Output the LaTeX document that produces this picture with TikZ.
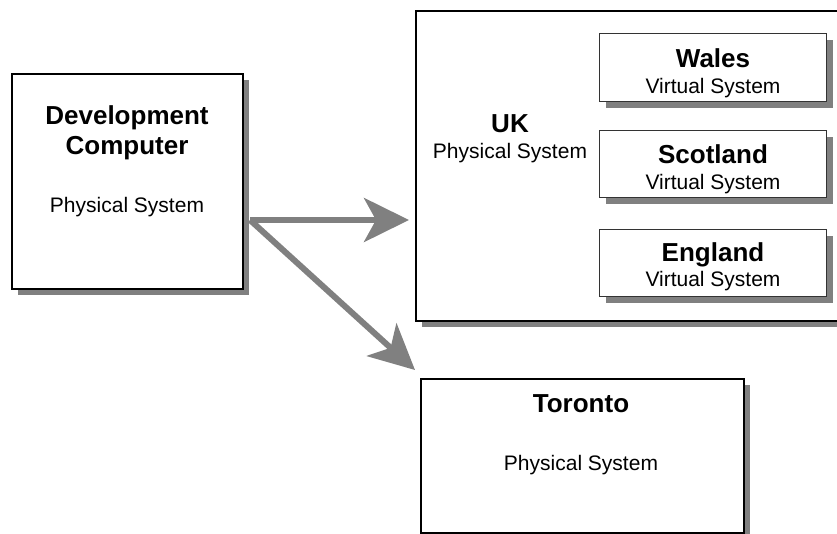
\documentclass[tikz,border=0pt]{standalone}
\usepackage{fontspec}
\setmainfont{Liberation Sans}
\usetikzlibrary{arrows.meta,shadows}
\definecolor{shade}{HTML}{808080}
\tikzset{
  sysbox/.style={draw=black, line width=1.6pt, fill=white, anchor=north west, inner sep=0pt,
    drop shadow={shadow xshift=6pt, shadow yshift=-6pt, fill=shade, opacity=1}},
  vbox/.style={draw=black!80, line width=1.4pt, fill=white, anchor=north west, inner sep=0pt,
    drop shadow={shadow xshift=6pt, shadow yshift=-6pt, fill=shade, opacity=1}},
  title/.style={anchor=base, inner sep=0pt, font=\fontsize{26}{30}\selectfont\bfseries},
  sub/.style={anchor=base, inner sep=0pt, font=\fontsize{21}{25}\selectfont},
  link/.style={draw=shade, line width=6pt, -{Stealth[length=45pt, width=44pt, inset=12pt]}}
}
\begin{document}
\begin{tikzpicture}[x=1pt, y=-1pt]
\clip (0,0) rectangle (837,534);
\useasboundingbox (0,0) rectangle (837,534);

% Development computer
\node[sysbox, minimum width=231pt, minimum height=215pt] (dev) at (11,73) {};
\node[title] (devt1) at (127,125) {Development};
\node[title] (devt2) at (127,155) {Computer};
\node[sub] (devs) at (127,213) {Physical System};

% UK
\node[sysbox, minimum width=440pt, minimum height=310pt] (uk) at (415,10) {};
\node[title] (ukt) at (510,133) {UK};
\node[sub] (uks) at (510,159) {Physical System};

% Virtual systems
\node[vbox, minimum width=227pt, minimum height=68pt] (wales) at (599,33) {};
\node[title] (walest) at (713,68) {Wales};
\node[sub] (waless) at (713,94) {Virtual System};

\node[vbox, minimum width=227pt, minimum height=67pt] (scot) at (599,130) {};
\node[title] (scott) at (713,164) {Scotland};
\node[sub] (scots) at (713,190) {Virtual System};

\node[vbox, minimum width=227pt, minimum height=67pt] (eng) at (599,229) {};
\node[title] (engt) at (713,262) {England};
\node[sub] (engs) at (713,287) {Virtual System};

% Toronto
\node[sysbox, minimum width=323pt, minimum height=154pt] (tor) at (420,378) {};
\node[title] (tort) at (581,412) {Toronto};
\node[sub] (tors) at (581,470) {Physical System};

% Connectors
\coordinate (src) at (250,220);
\draw[link] (src) -- ([xshift=-6pt]uk.west |- src);
\draw[link] (src) -- ([shift={(-5pt,8pt)}]tor.north west);
\end{tikzpicture}
\end{document}
